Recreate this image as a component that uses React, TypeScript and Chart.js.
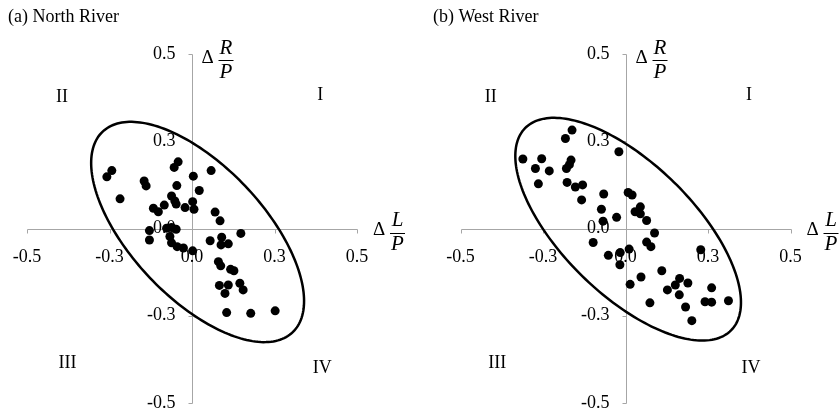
import React, { useEffect, useRef } from "react";
import { Chart, registerables } from "chart.js";

Chart.register(...registerables);

// ---- data ----
const tickValues = [-0.5, -0.25, 0, 0.25, 0.5];
const tickLabels = ["-0.5", "-0.3", "0.0", "0.3", "0.5"];
const quadrantNames = ["I", "II", "III", "IV"];

const northX = [-0.243, -0.258, -0.145, -0.139, -0.218, -0.042, -0.054, 0.004, 0.058, -0.046, 0.022, -0.062, -0.052, -0.048, -0.084, -0.117, -0.102, -0.021, 0.002, 0.006, 0.070, 0.085, -0.129, -0.129, -0.077, -0.062, -0.048, -0.067, -0.062, -0.045, -0.026, 0.002, 0.055, 0.090, 0.088, 0.110, 0.148, 0.080, 0.087, 0.117, 0.127, 0.083, 0.110, 0.100, 0.145, 0.155, 0.105, 0.178, 0.252];
const northY = [0.166, 0.148, 0.136, 0.122, 0.085, 0.191, 0.175, 0.150, 0.166, 0.123, 0.109, 0.093, 0.079, 0.070, 0.067, 0.058, 0.048, 0.060, 0.077, 0.055, 0.047, 0.022, -0.006, -0.033, 0.001, 0.003, -0.002, -0.023, -0.041, -0.052, -0.056, -0.064, -0.035, -0.025, -0.047, -0.044, -0.014, -0.095, -0.107, -0.117, -0.121, -0.163, -0.162, -0.186, -0.157, -0.176, -0.241, -0.243, -0.236];

const westX = [-0.162, -0.182, -0.020, -0.311, -0.254, -0.273, -0.231, -0.264, -0.165, -0.170, -0.179, -0.177, -0.152, -0.130, -0.133, -0.066, -0.073, -0.068, -0.027, 0.008, 0.020, 0.045, 0.029, 0.045, 0.064, 0.088, 0.064, 0.077, -0.098, -0.052, -0.016, 0.011, -0.017, 0.014, 0.047, 0.074, 0.110, 0.127, 0.151, 0.164, 0.163, 0.189, 0.182, 0.201, 0.228, 0.261, 0.241, 0.261, 0.312];
const westY = [0.282, 0.258, 0.220, 0.199, 0.200, 0.172, 0.165, 0.128, 0.196, 0.183, 0.172, 0.132, 0.119, 0.125, 0.082, 0.099, 0.055, 0.021, 0.032, 0.103, 0.096, 0.062, 0.048, 0.042, 0.023, -0.013, -0.039, -0.052, -0.040, -0.077, -0.069, -0.059, -0.104, -0.160, -0.139, -0.213, -0.121, -0.176, -0.162, -0.143, -0.190, -0.156, -0.225, -0.264, -0.061, -0.170, -0.210, -0.211, -0.207];

// ellipse: [centerX, centerY, semiMajor, semiMinor, angleDeg] in data units
const northEllipse = [0.017, -0.010, 0.407, 0.195, -44];
const westEllipse = [0.008, -0.002, 0.426, 0.193, -42];

// quadrant label anchors (data units), order I, II, III, IV
const northQuadX = [0.389, -0.394, -0.377, 0.395];
const northQuadY = [0.382, 0.377, -0.385, -0.400];
const westQuadX = [0.374, -0.408, -0.389, 0.380];
const westQuadY = [0.382, 0.377, -0.385, -0.400];

const FONT = "'Liberation Serif', 'Times New Roman', Times, serif";
const AXIS_COLOR = "#a6a6a6";

type PanelCfg = {
  title: string;
  titleX: number;
  xs: number[];
  ys: number[];
  ellipse: number[];
  qx: number[];
  qy: number[];
  width: number;
  padLeft: number;
  padRight: number;
};

function makePlugin(cfg: PanelCfg) {
  return {
    id: "decor",
    beforeDatasetsDraw(chart: any) {
      const { ctx } = chart;
      const x = chart.scales.x;
      const y = chart.scales.y;
      const x0 = Math.round(x.getPixelForValue(0)) + 0.5;
      const y0 = Math.round(y.getPixelForValue(0)) + 0.5;
      const xl = x.getPixelForValue(-0.5);
      const xr = x.getPixelForValue(0.5);
      const yt = y.getPixelForValue(0.5);
      const yb = y.getPixelForValue(-0.5);
      ctx.save();
      // axes
      ctx.strokeStyle = AXIS_COLOR;
      ctx.lineWidth = 1;
      ctx.beginPath();
      ctx.moveTo(Math.round(xl) + 0.5, y0);
      ctx.lineTo(Math.round(xr) + 0.5, y0);
      ctx.moveTo(x0, Math.round(yt) + 0.5);
      ctx.lineTo(x0, Math.round(yb) + 0.5);
      tickValues.forEach((v) => {
        const px = Math.round(x.getPixelForValue(v)) + 0.5;
        ctx.moveTo(px, y0);
        ctx.lineTo(px, y0 + 4);
        const py = Math.round(y.getPixelForValue(v)) + 0.5;
        ctx.moveTo(x0 - 4, py);
        ctx.lineTo(x0, py);
      });
      ctx.stroke();

      // tick labels
      ctx.fillStyle = "#000";
      ctx.font = `18px ${FONT}`;
      ctx.textBaseline = "middle";
      ctx.textAlign = "center";
      tickValues.forEach((v, i) => {
        ctx.fillText(tickLabels[i], x.getPixelForValue(v), y0 + 28);
      });
      ctx.textAlign = "right";
      tickValues.forEach((v, i) => {
        ctx.fillText(tickLabels[i], x0 - 17, y.getPixelForValue(v));
      });

      // quadrant labels
      ctx.textAlign = "center";
      quadrantNames.forEach((q, i) => {
        ctx.fillText(q, x.getPixelForValue(cfg.qx[i]), y.getPixelForValue(cfg.qy[i]));
      });

      // title
      ctx.textAlign = "left";
      ctx.font = `18px ${FONT}`;
      ctx.fillText(cfg.title, cfg.titleX, 17);

      // axis titles (fractions)
      const drawFrac = (left: number, cy: number, num: string) => {
        ctx.font = `19px ${FONT}`;
        ctx.textAlign = "left";
        ctx.textBaseline = "middle";
        ctx.fillText("\u0394", left, cy);
        const bx = left + 17;
        const bw = 15;
        ctx.strokeStyle = "#000";
        ctx.lineWidth = 1;
        ctx.beginPath();
        ctx.moveTo(bx, Math.round(cy + 2) + 0.5);
        ctx.lineTo(bx + bw, Math.round(cy + 2) + 0.5);
        ctx.stroke();
        ctx.font = `italic 21px ${FONT}`;
        ctx.textAlign = "center";
        ctx.fillText(num, bx + bw / 2, cy - 10);
        ctx.fillText("P", bx + bw / 2, cy + 14);
      };
      drawFrac(x0 + 9, yt + 4, "R");
      drawFrac(xr + 16, y0 + 1, "L");

      // ellipse
      const [cx, cy, ra, rb, angDeg] = cfg.ellipse;
      const a = (angDeg * Math.PI) / 180;
      ctx.strokeStyle = "#000";
      ctx.lineWidth = 2.5;
      ctx.beginPath();
      const N = 200;
      for (let k = 0; k <= N; k++) {
        const t = (k / N) * Math.PI * 2;
        const dx = ra * Math.cos(t) * Math.cos(a) - rb * Math.sin(t) * Math.sin(a);
        const dy = ra * Math.cos(t) * Math.sin(a) + rb * Math.sin(t) * Math.cos(a);
        const px = x.getPixelForValue(cx + dx);
        const py = y.getPixelForValue(cy + dy);
        if (k === 0) ctx.moveTo(px, py);
        else ctx.lineTo(px, py);
      }
      ctx.closePath();
      ctx.stroke();
      ctx.restore();
    },
  };
}

function Panel({ cfg, left }: { cfg: PanelCfg; left: number }) {
  const ref = useRef<HTMLCanvasElement | null>(null);
  useEffect(() => {
    if (!ref.current) return;
    const chart = new Chart(ref.current, {
      type: "scatter",
      data: {
        datasets: [
          {
            data: cfg.xs.map((v, i) => ({ x: v, y: cfg.ys[i] })),
            backgroundColor: "#000",
            borderWidth: 0,
            pointRadius: 4.5,
          },
        ],
      },
      options: {
        animation: false,
        responsive: false,
        devicePixelRatio: 1,
        layout: { padding: { left: cfg.padLeft, right: cfg.padRight, top: 54, bottom: 9 } },
        plugins: { legend: { display: false }, tooltip: { enabled: false }, title: { display: false } },
        scales: {
          x: { type: "linear", min: -0.5, max: 0.5, display: false },
          y: { type: "linear", min: -0.5, max: 0.5, display: false },
        },
      },
      plugins: [makePlugin(cfg)],
    });
    return () => chart.destroy();
  }, []);
  return (
    <canvas
      ref={ref}
      width={cfg.width}
      height={412}
      style={{ position: "absolute", left, top: 0, width: cfg.width, height: 412 }}
    />
  );
}

const northCfg: PanelCfg = {
  title: "(a) North River",
  titleX: 8,
  xs: northX,
  ys: northY,
  ellipse: northEllipse,
  qx: northQuadX,
  qy: northQuadY,
  width: 420,
  padLeft: 27,
  padRight: 63,
};

const westCfg: PanelCfg = {
  title: "(b) West River",
  titleX: 13,
  xs: westX,
  ys: westY,
  ellipse: westEllipse,
  qx: westQuadX,
  qy: westQuadY,
  width: 419,
  padLeft: 40.5,
  padRight: 48.5,
};

export default function App() {
  return (
    <div style={{ position: "fixed", left: 0, top: 0, width: 839, height: 412, background: "#fff", overflow: "hidden" }}>
      <Panel cfg={northCfg} left={0} />
      <Panel cfg={westCfg} left={420} />
    </div>
  );
}
